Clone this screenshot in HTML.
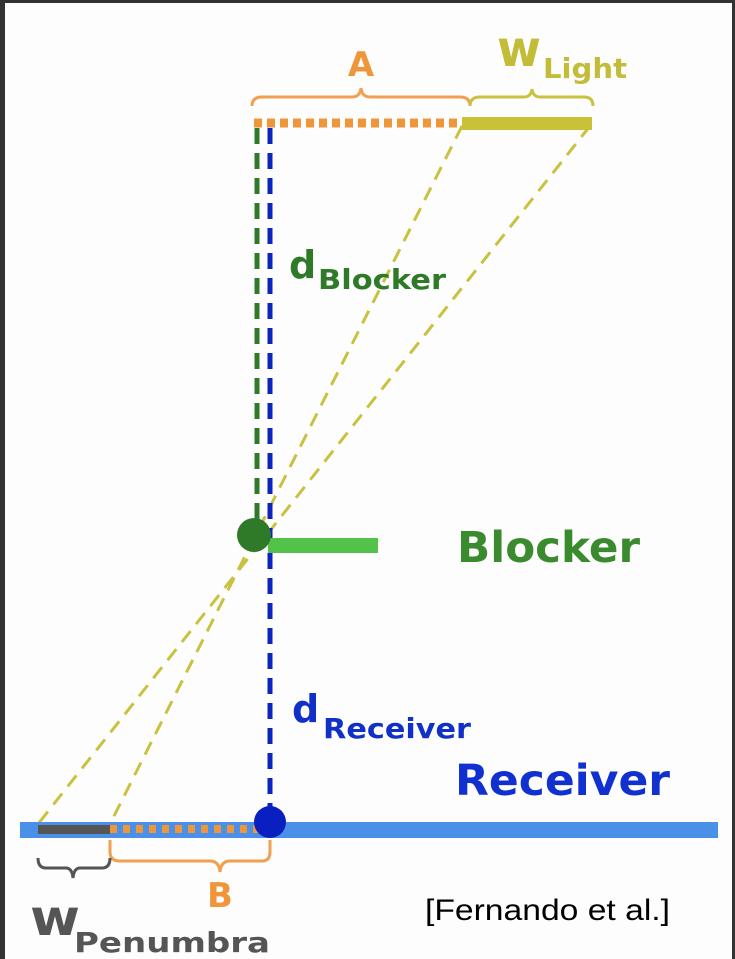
<!DOCTYPE html>
<html><head><style>
html,body{margin:0;padding:0;background:#fff;}
svg{display:block;}
text{font-family:"DejaVu Sans","Liberation Sans",sans-serif;font-weight:bold;}
</style></head><body>
<svg width="735" height="959" viewBox="0 0 735 959" xmlns="http://www.w3.org/2000/svg">
<rect x="0" y="0" width="735" height="959" fill="#fdfdfd"/>
<rect x="0" y="0" width="5" height="959" fill="#333"/>
<rect x="0" y="0" width="735" height="3" fill="#333"/>
<rect x="732" y="0" width="3" height="959" fill="#333"/>

<!-- yellow dashed rays -->
<line x1="462" y1="126" x2="110" y2="824" stroke="#c9c240" stroke-width="3" stroke-dasharray="14,9"/>
<line x1="590" y1="126" x2="38" y2="824" stroke="#c9c240" stroke-width="3" stroke-dasharray="14,9"/>

<!-- top brace A -->
<path d="M252,106 Q252,97 262,97 L352,97 Q360,97 361,88 Q362,97 370,97 L460,97 Q470,97 470,106" fill="none" stroke="#f0a050" stroke-width="3"/>
<path d="M470,106 Q470,97 480,97 L524,97 Q531,97 532,89 Q533,97 540,97 L584,97 Q593,97 593,106" fill="none" stroke="#c9c240" stroke-width="3"/>
<text x="361" y="76" font-size="34" fill="#f0963a" text-anchor="middle">A</text>
<text x="497" y="66" font-size="50" fill="#c2bc38" textLength="44" lengthAdjust="spacingAndGlyphs">w</text>
<text x="543" y="78" font-size="28" fill="#c2bc38" textLength="84" lengthAdjust="spacingAndGlyphs">Light</text>

<!-- top orange dotted + light -->
<line x1="254" y1="123" x2="462" y2="123" stroke="#f0963a" stroke-width="9" stroke-dasharray="8,5"/>
<rect x="462" y="117" width="130" height="13" fill="#c9c238"/>

<!-- verticals -->
<line x1="257" y1="128" x2="257" y2="522" stroke="#2e7a28" stroke-width="5" stroke-dasharray="16,9"/>
<line x1="270" y1="128" x2="270" y2="812" stroke="#0c24c0" stroke-width="5" stroke-dasharray="16,9"/>

<!-- blocker -->
<rect x="268" y="538" width="110" height="15" fill="#52c24a"/>
<circle cx="254" cy="535" r="17" fill="#2e7a28"/>
<text x="457" y="562" font-size="43" fill="#3a8a2e" textLength="183" lengthAdjust="spacingAndGlyphs">Blocker</text>
<text x="289" y="278" font-size="38" fill="#2e7a28">d</text>
<text x="318" y="289" font-size="28" fill="#2e7a28" textLength="128" lengthAdjust="spacingAndGlyphs">Blocker</text>

<!-- receiver -->
<rect x="20" y="822" width="698" height="16" fill="#4a90e8"/>
<rect x="38" y="825" width="72" height="9" fill="#555"/>
<line x1="110" y1="829" x2="262" y2="829" stroke="#f0963a" stroke-width="8" stroke-dasharray="7,6"/>
<circle cx="270" cy="822" r="16" fill="#0a1fbf"/>
<text x="292" y="722" font-size="38" fill="#1030c8">d</text>
<text x="323" y="738" font-size="28" fill="#1030c8" textLength="148" lengthAdjust="spacingAndGlyphs">Receiver</text>
<text x="455" y="795" font-size="43" fill="#1030d0" textLength="215" lengthAdjust="spacingAndGlyphs">Receiver</text>

<!-- bottom braces -->
<path d="M110,840 L110,852 Q110,861 120,861 L210,861 Q219,861 220,872 Q221,861 230,861 L262,861 Q270,861 270,852 L270,840" fill="none" stroke="#f0a050" stroke-width="3"/>
<text x="220" y="907" font-size="34" fill="#f0963a" text-anchor="middle">B</text>
<path d="M38,858 Q38,868 46,868 L66,868 Q72,868 73,878 Q74,868 80,868 L102,868 Q110,868 110,858" fill="none" stroke="#555" stroke-width="3"/>
<text x="30" y="935" font-size="50" fill="#555" textLength="50" lengthAdjust="spacingAndGlyphs">w</text>
<text x="74" y="952" font-size="28" fill="#555" textLength="196" lengthAdjust="spacingAndGlyphs">Penumbra</text>

<text x="425" y="920" font-size="30" fill="#000" textLength="245" lengthAdjust="spacingAndGlyphs" style="font-family:'Liberation Sans',sans-serif;font-weight:normal">[Fernando et al.]</text>
</svg>
</body></html>
